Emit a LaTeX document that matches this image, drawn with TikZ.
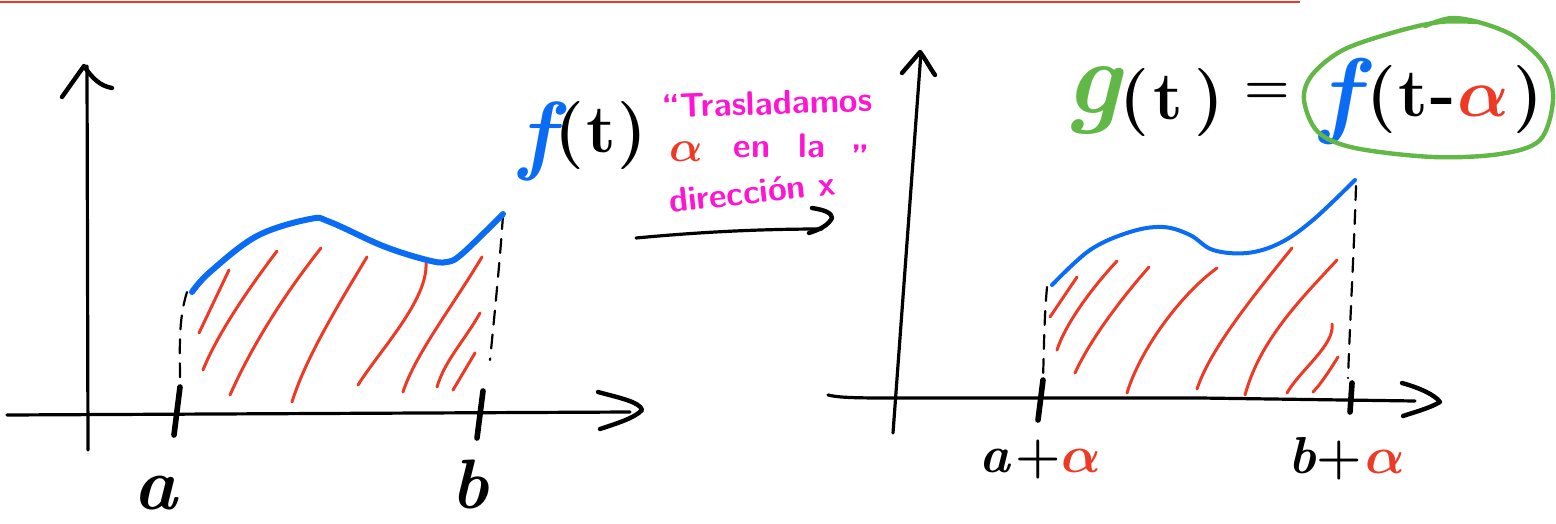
\documentclass[tikz,border=0pt]{standalone}
\usepackage{fontspec}
\usepackage{unicode-math}
\setmathfont{Latin Modern Math}
\definecolor{pblue}{HTML}{0A6CF5}
\definecolor{pred}{HTML}{EE3A24}
\definecolor{pmag}{HTML}{FF14D2}
\definecolor{pgreen}{HTML}{62B846}
\newcommand{\alp}{$\symbfit{\alpha}$}
\tikzset{
  axisline/.style={line width=1.6pt, line cap=round, line join=round},
  headline/.style={line width=2.2pt, line cap=round, line join=round},
  tickmark/.style={line width=2.8pt, line cap=round},
  dashguide/.style={line width=1.1pt, dash pattern=on 7pt off 5pt, line cap=round},
  hatch/.style={pred, line width=1.5pt, line cap=round},
  fcurve/.style={pblue, line width=3pt, line cap=round},
  fcurvethin/.style={pblue, line width=2pt, line cap=round},
  biglbl/.style={inner sep=0pt, font=\bfseries\itshape\fontsize{37}{40}\selectfont},
  smalllbl/.style={inner sep=0pt, font=\bfseries\fontsize{26}{30}\selectfont},
  magtxt/.style={inner sep=0pt, text=pmag, font=\sffamily\bfseries\fontsize{17}{20}\selectfont},
  eqtxt/.style={inner sep=0pt, font=\bfseries\fontsize{34}{38}\selectfont},
}
\begin{document}
\begin{tikzpicture}[x=0.5pt,y=-0.5pt]
\useasboundingbox (0,0) rectangle (1556,524);
% top red rule
\draw[pred, line width=1.2pt] (0,2) -- (1300,2);

%%%%%%%%%%%% LEFT GRAPH %%%%%%%%%%%%
\coordinate (Lx0) at (7,415);
\coordinate (Lx1) at (630,412);
\coordinate (Ly0) at (88,450);
\coordinate (Ly1) at (87,66);
\draw[axisline] (Lx0) -- (Lx1);
\draw[axisline] (Ly0) -- (Ly1);
% arrow heads
\draw[headline] (598,392) .. controls (620,398) and (640,402) .. (642,410) .. controls (635,418) and (615,424) .. (600,429);
\draw[headline] (62,97) -- (84,66) .. controls (92,78) and (100,86) .. (112,88);
% ticks
\draw[tickmark] (180,387) -- (174,435);
\draw[tickmark] (483,391) -- (477,438);
% dashed guides
\draw[dashguide] (187,292) .. controls (178,320) and (180,350) .. (180,382);
\draw[dashguide] (503,215) .. controls (500,260) and (495,310) .. (490,360);
% hatching
\draw[hatch] (229,270) -- (199,333);
\draw[hatch] (277,251) .. controls (240,300) and (215,340) .. (203,370);
\draw[hatch] (321,248) .. controls (280,300) and (250,350) .. (230,395);
\draw[hatch] (367,257) .. controls (335,310) and (305,360) .. (292,402);
\draw[hatch] (426,263) .. controls (428,300) and (380,350) .. (358,385);
\draw[hatch] (482,257) .. controls (450,310) and (415,355) .. (403,392);
\draw[hatch] (480,313) .. controls (465,340) and (445,360) .. (437,387);
\draw[hatch] (475,353) -- (453,390);
% function
\draw[fcurve] plot[smooth, tension=0.6] coordinates {(192,292) (210,272) (257,236) (310,219) (330,222) (383,246) (427,260) (447,262) (463,253) (503,214)};
% labels
\node[biglbl] (la) at (155,493) {a};
\node[biglbl, font=\bfseries\itshape\fontsize{35}{38}\selectfont] (lb) at (470,484) {b};
\node[inner sep=0pt, text=pblue, font=\bfseries\itshape\fontsize{44}{48}\selectfont] (lf) at (537,141) {f};
\node[eqtxt] (lft) at (601,136) {(\kern1pt t\kern1pt)};

%%%%%%%%%%%% MIDDLE %%%%%%%%%%%%
\node[magtxt, rotate=2] (m1) at (767,103) {\textquotedblleft Trasladamos};
\node[inner sep=0pt, text=pred, font=\fontsize{22}{24}\selectfont] (m2a) at (686,152) {\alp};
\node[magtxt] (m2b) at (752,150) {en};
\node[magtxt] (m2c) at (812,146) {la};
\node[magtxt] (m2d) at (860,157) {\textquotedblright};
\node[magtxt, rotate=6] (m3) at (752,192) {dirección x};
\coordinate (arrS) at (636,238);
\coordinate (arrE) at (822,229);
\draw[axisline] (arrS) .. controls (700,232) and (760,229) .. (arrE);
\draw[headline] (812,208) .. controls (825,210) and (832,213) .. (832,218) .. controls (828,226) and (818,230) .. (809,233);

%%%%%%%%%%%% RIGHT GRAPH %%%%%%%%%%%%
\coordinate (Rx0) at (828,395);
\coordinate (Rx1) at (1415,401);
\coordinate (Ry0) at (893,433);
\coordinate (Ry1) at (921,52);
\draw[axisline] (Rx0) .. controls (840,398) and (860,398) .. (900,398) -- (1200,398) -- (Rx1);
\draw[axisline] (Ry0) -- (Ry1);
\draw[headline] (1402,383) .. controls (1420,388) and (1435,395) .. (1440,402) .. controls (1430,408) and (1415,412) .. (1403,416);
\draw[headline] (902,73) -- (920,52) .. controls (926,60) and (930,68) .. (935,75);
% ticks
\draw[tickmark] (1043,380) -- (1038,420);
\draw[tickmark] (1352,383) -- (1350,412);
% dashed guides
\draw[dashguide] (1047,287) .. controls (1044,320) and (1044,350) .. (1043,378);
\draw[dashguide] (1356,186) .. controls (1354,250) and (1350,320) .. (1348,378);
% hatching
\draw[hatch] (1077,277) -- (1050,317);
\draw[hatch] (1117,261) .. controls (1090,290) and (1065,325) .. (1057,350);
\draw[hatch] (1149,267) .. controls (1120,300) and (1090,340) .. (1075,373);
\draw[hatch] (1217,268) .. controls (1180,295) and (1140,350) .. (1127,393);
\draw[hatch] (1292,248) .. controls (1250,300) and (1210,350) .. (1197,389);
\draw[hatch] (1337,260) .. controls (1300,300) and (1260,340) .. (1245,395);
\draw[hatch] (1332,324) .. controls (1335,345) and (1300,370) .. (1287,393);
\draw[hatch] (1338,357) .. controls (1330,370) and (1320,385) .. (1313,392);
% function
\draw[fcurvethin] plot[smooth, tension=0.6] coordinates {(1052,285) (1090,250) (1130,232) (1163,227) (1190,235) (1213,250) (1247,253) (1280,243) (1313,220) (1355,180)};
% labels
\node[smalllbl] (la2) at (1040,460) {\itshape a\kern3pt\upshape +{\color{pred}\alp}};
\node[smalllbl] (lb2) at (1347,459) {\itshape b\upshape +\kern2pt{\color{pred}\alp}};

%%%%%%%%%%%% EQUATION %%%%%%%%%%%%
\node[inner sep=0pt, text=pgreen, font=\bfseries\itshape\fontsize{52}{56}\selectfont] (g) at (1093,100) {g};
\node[eqtxt] (gt) at (1172,103) {(\kern2pt t\kern6pt)};
\node[eqtxt, font=\bfseries\fontsize{26}{30}\selectfont] (eq) at (1267,93) {=};
\node[inner sep=0pt, text=pblue, font=\bfseries\itshape\fontsize{48}{52}\selectfont] (f2) at (1340,102) {f};
\node[eqtxt] (ft) at (1455,100) {(\kern1pt t\kern1pt-\kern1pt{\color{pred}\alp}\kern2pt)};
\draw[pgreen, line width=2.2pt, line cap=round] plot[smooth, tension=0.55] coordinates {(1478,22) (1440,22) (1395,32) (1343,50) (1312,75) (1304,100) (1318,132) (1355,148) (1433,157) (1500,154) (1540,140) (1553,100) (1545,65) (1517,38) (1485,24) (1452,18) (1425,26)};
\end{tikzpicture}
\end{document}
